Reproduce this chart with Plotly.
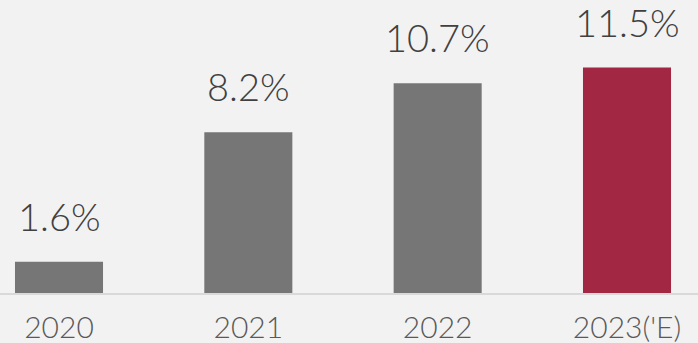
import plotly.graph_objects as go

categories = ["2020", "2021", "2022", "2023('E)"]
values = [1.6, 8.2, 10.7, 11.5]
labels = ["1.6%", "8.2%", "10.7%", "11.5%"]
colors = ["#767676", "#767676", "#767676", "#a12743"]

xs = list(range(len(categories)))

fig = go.Figure()
fig.add_trace(go.Bar(
    x=xs, y=values, width=0.465,
    marker=dict(color=colors, line=dict(width=0)),
    hoverinfo="skip",
))

for x, v, t in zip(xs, values, labels):
    fig.add_annotation(x=x, y=v, text=t, showarrow=False, yanchor="bottom",
                       yshift=21, font=dict(family="Lato", size=38, color="#404040", weight=300))

fig.update_layout(
    width=698, height=343,
    margin=dict(l=0, r=0, t=0, b=50),
    paper_bgcolor="#f2f2f2", plot_bgcolor="#f2f2f2",
    showlegend=False,
    xaxis=dict(range=[-0.3116, 3.375], tickmode="array", tickvals=xs, ticktext=categories,
               showgrid=False, zeroline=False, showline=True, linecolor="#d9d9d9", linewidth=2,
               ticks="", ticklabelstandoff=7,
               tickfont=dict(family="Lato", size=30, color="#595959", weight=300)),
    yaxis=dict(range=[0, 14.95], visible=False),
)

fig.write_html("out.html")
